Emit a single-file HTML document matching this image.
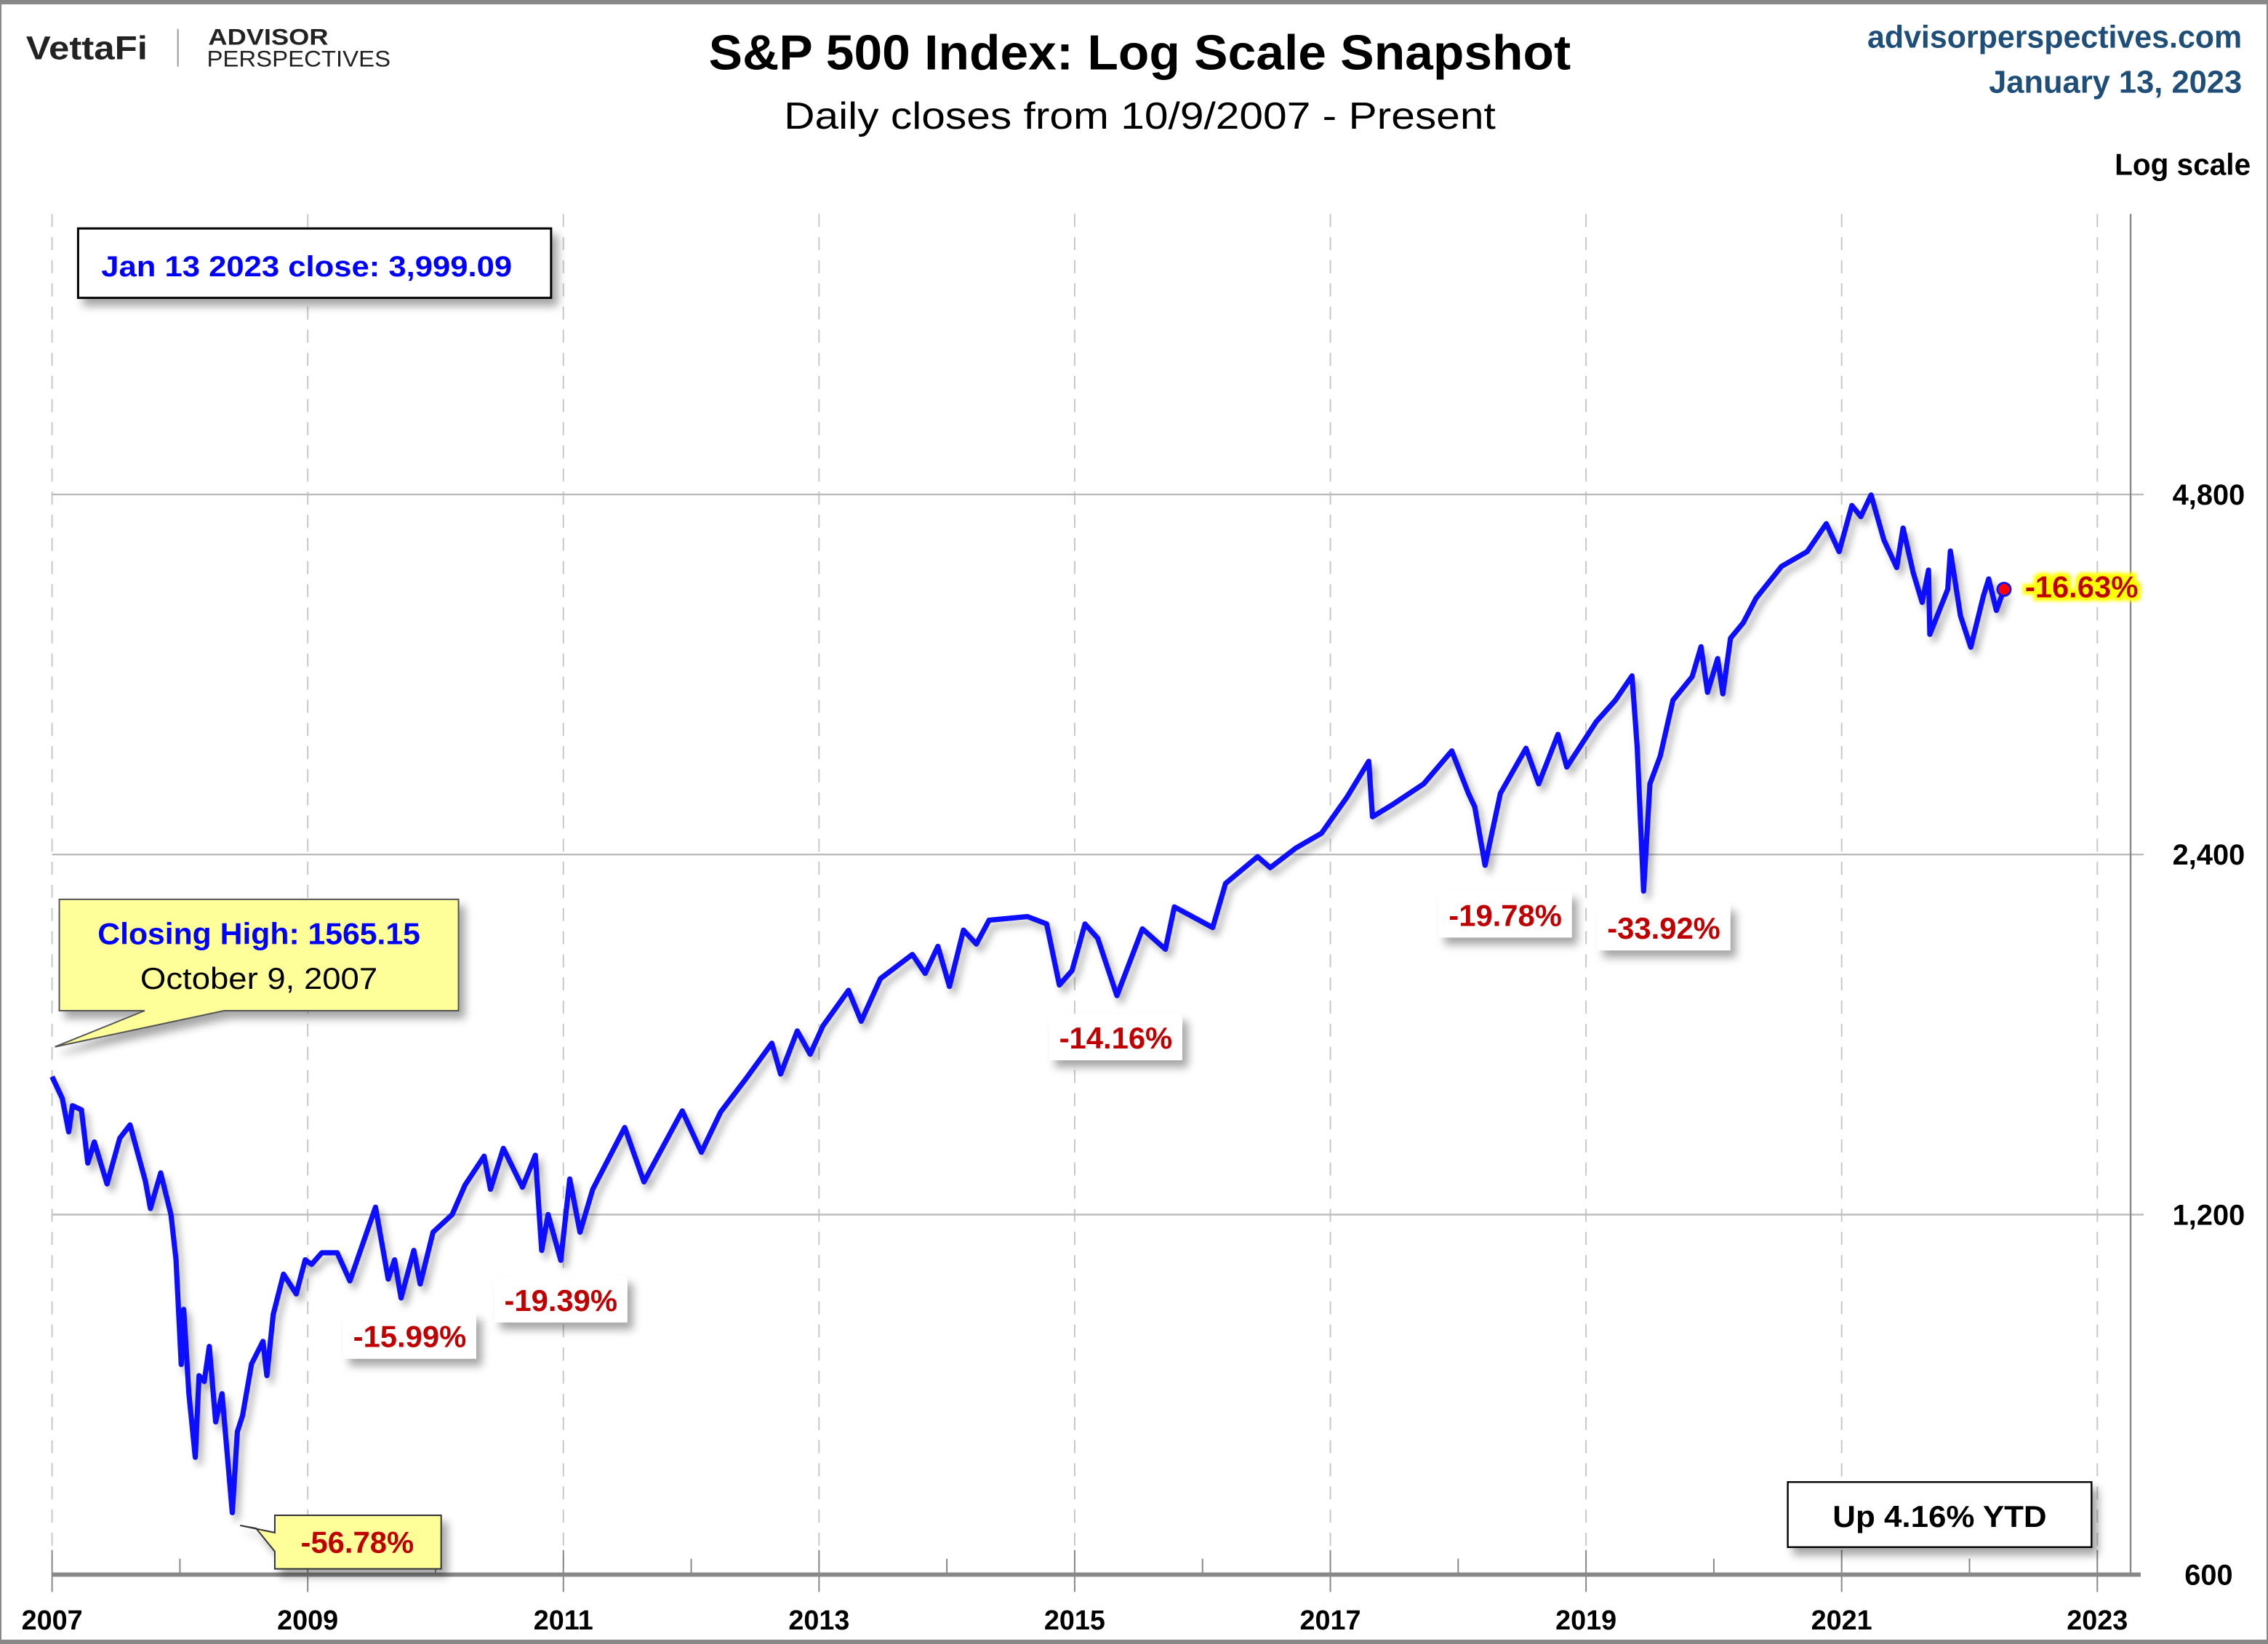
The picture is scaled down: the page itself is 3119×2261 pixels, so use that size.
<!DOCTYPE html>
<html><head><meta charset="utf-8"><style>
html,body{margin:0;padding:0;background:#fff}
svg{display:block}
text{font-family:"Liberation Sans",sans-serif}
</style></head><body>
<svg id="chart" width="3119" height="2261" viewBox="0 0 1568 1137" preserveAspectRatio="none" xmlns="http://www.w3.org/2000/svg">
<defs>
<filter id="sh" x="-20%" y="-20%" width="150%" height="160%"><feDropShadow dx="4" dy="5" stdDeviation="3" flood-color="#000" flood-opacity="0.35"/></filter>
<filter id="lsh" x="-5%" y="-5%" width="110%" height="110%"><feDropShadow dx="3" dy="4" stdDeviation="2.5" flood-color="#000" flood-opacity="0.3"/></filter>
<filter id="glow" x="-10%" y="-30%" width="120%" height="160%"><feMorphology in="SourceAlpha" operator="dilate" radius="2.5" result="d"/><feGaussianBlur in="d" stdDeviation="1.2" result="b"/><feFlood flood-color="#ffff00"/><feComposite in2="b" operator="in" result="y"/><feMerge><feMergeNode in="y"/><feMergeNode in="SourceGraphic"/></feMerge></filter>
</defs>
<rect x="0.5" y="0.5" width="1567" height="1136" fill="#fff" stroke="#888" stroke-width="1"/>
<rect x="0" y="0" width="1568" height="3" fill="#888"/>
<rect x="0" y="1134" width="1568" height="3" fill="#888"/>

<g>
<text x="18" y="41" font-size="23" font-weight="bold" fill="#222" textLength="84" lengthAdjust="spacingAndGlyphs">VettaFi</text>
<line x1="123" y1="20" x2="123" y2="46" stroke="#999" stroke-width="1"/>
<text x="144" y="31" font-size="16" font-weight="bold" fill="#222" textLength="83" lengthAdjust="spacingAndGlyphs">ADVISOR</text>
<text x="143" y="46" font-size="16" fill="#222" textLength="127" lengthAdjust="spacingAndGlyphs">PERSPECTIVES</text>
</g>
<text x="490" y="48" font-size="34" font-weight="bold" fill="#000" textLength="596" lengthAdjust="spacingAndGlyphs">S&amp;P 500 Index: Log Scale Snapshot</text>
<text x="542" y="89" font-size="26" fill="#000" textLength="492" lengthAdjust="spacingAndGlyphs">Daily closes from 10/9/2007 - Present</text>
<text x="1291" y="33" font-size="22" font-weight="bold" fill="#1f4e79" textLength="259" lengthAdjust="spacingAndGlyphs">advisorperspectives.com</text>
<text x="1375" y="64" font-size="22" font-weight="bold" fill="#1f4e79" textLength="175" lengthAdjust="spacingAndGlyphs">January 13, 2023</text>
<text x="1462" y="121" font-size="21" font-weight="bold" fill="#000" textLength="94" lengthAdjust="spacingAndGlyphs">Log scale</text>

<g id="grid"></g>
<g id="axes"></g>
<g id="series"></g>

<g>
<rect x="54" y="158" width="327" height="48" fill="#fff" stroke="#000" stroke-width="1.5" filter="url(#sh)"/>
<text x="70" y="191" font-size="20" font-weight="bold" fill="#0000ff" textLength="284" lengthAdjust="spacingAndGlyphs">Jan 13 2023 close: 3,999.09</text>
</g>
<g filter="url(#sh)">
<path d="M41,622 H317 V699 H155 L38,724 L100,699 H41 Z" fill="#ffff99" stroke="#555" stroke-width="1"/>
</g>
<text x="179" y="653" font-size="21" font-weight="bold" fill="#0000ff" text-anchor="middle" textLength="223" lengthAdjust="spacingAndGlyphs">Closing High: 1565.15</text>
<text x="179" y="684" font-size="21" fill="#000" text-anchor="middle" textLength="164" lengthAdjust="spacingAndGlyphs">October 9, 2007</text>

<g>
<path d="M190,1048 H305 V1085 H190 V1073 L177,1057 L166,1055 L190,1060 Z" fill="#ffff99" stroke="#333" stroke-width="1" filter="url(#sh)"/>
<text x="247" y="1074" font-size="21" font-weight="bold" fill="#c00000" text-anchor="middle">-56.78%</text>
</g>

<g id="labels"></g>

<g>
<rect x="1236" y="1025" width="210" height="45" fill="#fff" stroke="#000" stroke-width="1.2" filter="url(#sh)"/>
<text x="1341" y="1056" font-size="21" font-weight="bold" fill="#000" text-anchor="middle" textLength="148" lengthAdjust="spacingAndGlyphs">Up 4.16% YTD</text>
</g>
<text x="1400" y="413" font-size="21" font-weight="bold" fill="#c00000" filter="url(#glow)">-16.63%</text>
</svg>
<script>
const ns="http://www.w3.org/2000/svg";
const dates=[2007.77,2007.85,2007.9,2007.93,2008.0,2008.05,2008.1,2008.2,2008.3,2008.38,2008.5,2008.54,2008.62,2008.7,2008.74,2008.78,2008.8,2008.84,2008.89,2008.92,2008.96,2009.0,2009.05,2009.1,2009.18,2009.22,2009.26,2009.33,2009.42,2009.45,2009.5,2009.58,2009.68,2009.75,2009.8,2009.88,2010.0,2010.1,2010.3,2010.36,2010.4,2010.45,2010.5,2010.6,2010.65,2010.75,2010.9,2011.0,2011.15,2011.2,2011.3,2011.45,2011.55,2011.6,2011.65,2011.75,2011.82,2011.9,2012.0,2012.25,2012.4,2012.6,2012.7,2012.85,2013.0,2013.2,2013.4,2013.47,2013.6,2013.7,2013.8,2014.0,2014.1,2014.25,2014.5,2014.6,2014.7,2014.79,2014.9,2015.0,2015.1,2015.4,2015.55,2015.65,2015.75,2015.85,2015.95,2016.1,2016.3,2016.48,2016.55,2016.85,2016.95,2017.2,2017.3,2017.5,2017.7,2017.9,2018.07,2018.1,2018.25,2018.5,2018.72,2018.85,2018.9,2018.98,2019.1,2019.3,2019.4,2019.55,2019.62,2019.85,2020.0,2020.13,2020.17,2020.22,2020.27,2020.35,2020.45,2020.6,2020.67,2020.72,2020.8,2020.84,2020.9,2021.0,2021.1,2021.3,2021.5,2021.65,2021.75,2021.85,2021.92,2022.0,2022.1,2022.2,2022.25,2022.33,2022.4,2022.45,2022.46,2022.6,2022.62,2022.7,2022.78,2022.88,2022.92,2022.98,2023.04];
const closes=[1565,1500,1407,1480,1468,1325,1380,1273,1390,1426,1280,1214,1300,1200,1100,899,1000,850,752,880,870,931,805,850,676,790,815,900,940,880,990,1070,1030,1100,1090,1115,1115,1056,1217,1120,1060,1100,1022,1120,1050,1160,1200,1270,1343,1260,1363,1265,1345,1120,1200,1099,1285,1160,1260,1419,1278,1400,1465,1353,1462,1560,1669,1573,1709,1634,1725,1848,1741,1890,1980,1909,2011,1862,2075,2020,2115,2130,2100,1867,1920,2100,2043,1829,2080,2000,2170,2085,2270,2390,2340,2430,2500,2680,2872,2581,2640,2750,2930,2700,2630,2351,2700,2945,2750,3025,2840,3100,3230,3386,2950,2237,2750,2900,3230,3380,3580,3280,3500,3270,3640,3750,3930,4180,4300,4537,4300,4700,4600,4796,4400,4170,4500,4130,3900,4150,3667,4000,4305,3800,3577,3950,4080,3840,3999];
const tickLabels=["2007","2009","2011","2013","2015","2017","2019","2021","2023"];
const yTicks=[600,1200,2400,4800];
const yTickLabels=["600","1,200","2,400","4,800"];
const drawdownLabels=["-15.99%","-19.39%","-14.16%","-19.78%","-33.92%"];
const drawdownDates=[2010.5,2011.75,2015.65,2018.98,2020.22];

const X0=36,X1=1450,D0=2007.77,D1=2023.77,YB=1089,PX=249;
const x=d=>X0+(d-D0)/(D1-D0)*(X1-X0);
const y=v=>YB-PX*Math.log2(v/600);
function mk(tag,attrs,parent){const e=document.createElementNS(ns,tag);for(const k in attrs)e.setAttribute(k,attrs[k]);parent.appendChild(e);return e;}
const grid=document.getElementById('grid'),axes=document.getElementById('axes'),series=document.getElementById('series'),labels=document.getElementById('labels');
tickLabels.forEach((t,i)=>{
 const xx=x(D0+2*i);
 const g=mk('line',{x1:xx,y1:148,x2:xx,y2:1089,stroke:'#c8c8c8','stroke-width':1,'stroke-dasharray':'9,7'},grid);
 
 
 const tk=mk('line',{x1:xx,y1:1072,x2:xx,y2:1101,stroke:'#888','stroke-width':1},axes);
 
 
 const tx=mk('text',{x:xx,y:1127,'font-size':19,'font-weight':'bold','text-anchor':'middle',fill:'#000'},axes);
 tx.textContent=t;
 
 
 if(i+1 < tickLabels.length){
  const mx=x(D0+2*i+1);
  const m=mk('line',{x1:mx,y1:1078,x2:mx,y2:1089,stroke:'#888','stroke-width':1},axes);
  
  
 }
});
yTicks.forEach((v,i)=>{
 const yy=y(v);
 if(v>600){
  const g=mk('line',{x1:36,y1:yy,x2:1482,y2:yy,stroke:'#bbb','stroke-width':1.2},grid);
  
  
 }
 const t=mk('text',{x:1527,y:yy+7,'font-size':20,'font-weight':'bold','text-anchor':'middle',fill:'#000'},axes);
 t.textContent=yTickLabels[i];
 
 
});
const ra=mk('line',{x1:1473,y1:148,x2:1473,y2:1089,stroke:'#888','stroke-width':1.2},axes);


const xa=mk('line',{x1:36,y1:1089,x2:1480,y2:1089,stroke:'#888','stroke-width':3},axes);


const pts=dates.map((d,i)=>x(d).toFixed(1)+','+y(closes[i]).toFixed(1)).join(' ');
const pl=mk('polyline',{points:pts,fill:'none',stroke:'#1010ff','stroke-width':3.6,'stroke-linejoin':'round',filter:'url(#lsh)'},series);


const last=dates.length-1;
const dot=mk('circle',{cx:x(dates[last]),cy:y(closes[last]),r:4.5,fill:'#ff0000',stroke:'#1010ff','stroke-width':1.5},series);


const offs=[[6,14],[0,15],[39,24],[14,22],[14,13]];
drawdownLabels.forEach((t,i)=>{
 const d=drawdownDates[i];
 const idx=dates.indexOf(d);
 const cx=x(d)+offs[i][0], cy=y(closes[idx])+offs[i][1];
 const g=mk('g',{},labels);
 
 
 mk('rect',{x:cx-46,y:cy-4,width:92,height:32,fill:'#fff',filter:'url(#sh)'},g);
 const tx=mk('text',{x:cx,y:cy+20,'font-size':21,'font-weight':'bold','text-anchor':'middle',fill:'#c00000'},g);
 tx.textContent=t;
});
</script>
</body></html>
